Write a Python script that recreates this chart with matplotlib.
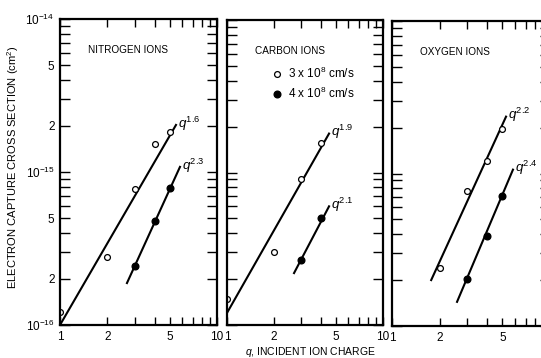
"""Electron capture cross section vs incident ion charge (three ion species)."""

import matplotlib as mpl

mpl.use("Agg")
import matplotlib.pyplot as plt
from matplotlib.lines import Line2D
from matplotlib.ticker import FixedLocator, FixedFormatter, NullFormatter

plt.rcParams["font.family"] = ["Liberation Sans", "DejaVu Sans"]
plt.rcParams["mathtext.fontset"] = "custom"
plt.rcParams["mathtext.rm"] = "Liberation Sans"
plt.rcParams["mathtext.it"] = "Liberation Sans:italic"

# --- data ---------------------------------------------------------------
panels = ["NITROGEN IONS", "CARBON IONS", "OXYGEN IONS"]

# 3 x 10^8 cm/s (open circles)
slow_q = [[1, 2, 3, 4, 5], [1, 2, 3, 4], [2, 3, 4, 5]]
slow_sigma = [
    [1.22e-16, 2.78e-16, 7.7e-16, 1.52e-15, 1.82e-15],
    [1.48e-16, 3.0e-16, 9.1e-16, 1.55e-15],
    [2.4e-16, 7.7e-16, 1.2e-15, 1.97e-15],
]
# 4 x 10^8 cm/s (filled circles)
fast_q = [[3, 4, 5], [3, 4], [3, 4, 5]]
fast_sigma = [
    [2.43e-16, 4.78e-16, 7.9e-16],
    [2.66e-16, 5.0e-16],
    [2.03e-16, 3.9e-16, 7.1e-16],
]

# power-law fit lines: (q range, sigma at each end)
slow_fit_q = [[1, 5.48], [1, 4.51], [1.77, 5.27]]
slow_fit_sigma = [[1.0e-16, 2.03e-15], [1.2e-16, 1.8e-15], [2.0e-16, 2.36e-15]]
slow_fit_label = ["1.6", "1.9", "2.2"]
fast_fit_q = [[2.67, 5.81], [2.69, 4.51], [2.58, 5.83]]
fast_fit_sigma = [[1.88e-16, 1.08e-15], [2.19e-16, 6.0e-16], [1.44e-16, 1.06e-15]]
fast_fit_label = ["2.3", "2.1", "2.4"]

x_major = [1, 10]
x_major_labels = [["1", "10"], ["1", "10"], ["1", ""]]  # last panel runs off the page
x_minor = [2, 3, 4, 5, 6, 7, 8, 9]
x_minor_labels = ["2", "", "", "5", "", "", "", ""]
y_major = [1e-16, 1e-15, 1e-14]
y_major_labels = ["10$^{-16}$", "10$^{-15}$", "10$^{-14}$"]
y_minor = [m * d for d in (1e-16, 1e-15) for m in range(2, 10)]
y_minor_labels = [("2" if m == 2 else "5" if m == 5 else "") for d in (0, 1) for m in range(2, 10)]

# --- figure ---------------------------------------------------------------
W, H = 541, 358
fig = plt.figure(figsize=(W / 100, H / 100), dpi=100)

# axes boxes in pixels: left, right, top, bottom
boxes = [(60, 217, 19, 325), (227, 383, 20, 325), (392, 550, 21, 326)]

for i, name in enumerate(panels):
    l, r, t, b = boxes[i]
    ax = fig.add_axes([l / W, (H - b) / H, (r - l) / W, (b - t) / H])
    ax.set_xscale("log")
    ax.set_yscale("log")
    ax.set_xlim(1, 10)
    ax.set_ylim(1e-16, 1e-14)

    for s in ax.spines.values():
        s.set_linewidth(1.6)

    ax.xaxis.set_major_locator(FixedLocator(x_major))
    ax.xaxis.set_major_formatter(FixedFormatter(x_major_labels[i]))
    ax.xaxis.set_minor_locator(FixedLocator(x_minor))
    ax.xaxis.set_minor_formatter(FixedFormatter(x_minor_labels))
    ax.yaxis.set_major_locator(FixedLocator(y_major))
    ax.yaxis.set_minor_locator(FixedLocator(y_minor))
    if i == 0:
        ax.yaxis.set_major_formatter(FixedFormatter(y_major_labels))
        ax.yaxis.set_minor_formatter(FixedFormatter(y_minor_labels))
    else:
        ax.yaxis.set_major_formatter(NullFormatter())
        ax.yaxis.set_minor_formatter(NullFormatter())

    ax.tick_params(which="both", direction="in", top=True, right=True,
                   width=1.0, labelsize=8.5, pad=4)
    ax.tick_params(axis="y", which="both", length=7)
    ax.tick_params(axis="x", which="both", length=6)

    ax.plot(slow_fit_q[i], slow_fit_sigma[i], color="black", lw=1.5)
    ax.plot(fast_fit_q[i], fast_fit_sigma[i], color="black", lw=1.5)
    ax.plot(slow_q[i], slow_sigma[i], "o", ms=4.2, mfc="white", mec="black",
            mew=0.9)
    ax.plot(fast_q[i], fast_sigma[i], "o", ms=4.8, mfc="black", mec="black")

    ax.annotate(f"$q^{{{slow_fit_label[i]}}}$",
                xy=(slow_fit_q[i][1], slow_fit_sigma[i][1]),
                xytext=(1.5, -2), textcoords="offset points", fontsize=9.5)
    ax.annotate(f"$q^{{{fast_fit_label[i]}}}$",
                xy=(fast_fit_q[i][1], fast_fit_sigma[i][1]),
                xytext=(1.5, -2), textcoords="offset points", fontsize=9.5)

    ax.text(0.18, 0.89, name, transform=ax.transAxes, fontsize=7.2)

    if i == 1:
        handles = [
            Line2D([], [], ls="none", marker="o", ms=4.2, mfc="white",
                   mec="black", mew=0.9),
            Line2D([], [], ls="none", marker="o", ms=4.8, mfc="black",
                   mec="black"),
        ]
        ax.legend(handles, ["3 x 10$^8$ cm/s", "4 x 10$^8$ cm/s"],
                  loc="upper left", bbox_to_anchor=(0.25, 0.87),
                  frameon=False, fontsize=8.5, handlelength=0.8,
                  handletextpad=0.6, labelspacing=0.45, borderpad=0)

fig.text(13 / W, 1 - 167 / H, "ELECTRON CAPTURE CROSS SECTION (cm$^2$)",
         rotation=90, ha="center", va="center", fontsize=8)
fig.text(310 / W, 1 - 352 / H, "$q$, INCIDENT ION CHARGE",
         ha="center", va="center", fontsize=7.5)

fig.savefig("out.png", dpi=100)
plt.close(fig)
